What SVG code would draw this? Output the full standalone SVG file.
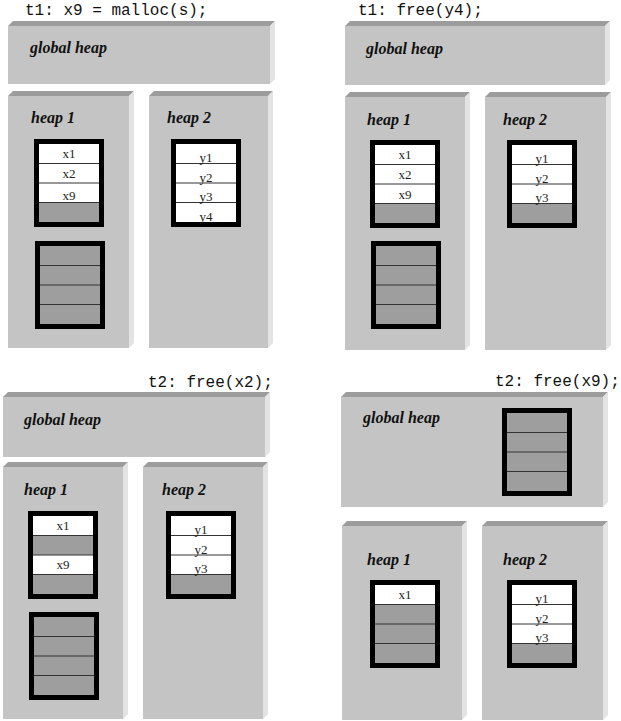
<svg xmlns="http://www.w3.org/2000/svg" width="621" height="721" viewBox="0 0 621 721">
<style>
.bg{fill:#ffffff}
.front{fill:#c4c4c4}
.top{fill:#9c9c9c}
.side{fill:#e3e3e3}
.title{font-family:"Liberation Mono","Courier New",monospace;font-size:16px;fill:#111}
.hl{font-family:"Liberation Serif","Times New Roman",serif;font-size:16px;font-weight:bold;font-style:italic;fill:#111}
.lbl{font-family:"Liberation Serif","Times New Roman",serif;font-size:13px;fill:#222;text-anchor:middle}
.frame{fill:#000}
.w{fill:#ffffff}
.g{fill:#9e9e9e}
.sep{stroke:#333;stroke-width:1}
</style>
<rect class="bg" x="0" y="0" width="621" height="721"/>
<defs>
<g id="blk-gray">
<rect class="frame" x="0" y="0" width="70" height="88"/>
<rect class="g" x="5" y="5" width="60" height="78"/>
<line class="sep" x1="5" y1="24.5" x2="65" y2="24.5"/>
<line class="sep" x1="5" y1="44" x2="65" y2="44"/>
<line class="sep" x1="5" y1="63.5" x2="65" y2="63.5"/>
</g>
</defs>

<!-- Panel 1 -->
<g id="panel1">
<text class="title" x="25" y="15" xml:space="preserve">t1: x9 = malloc(s);</text>
<g id="p1-global">
<polygon class="top" points="8,26 13,21 275,21 270,26"/>
<polygon class="side" points="270,26 275,21 275,79 270,84"/>
<rect class="front" x="8" y="26" width="262" height="58"/>
<text class="hl" x="30" y="53">global heap</text>
</g>
<g id="p1-heap1">
<polygon class="top" points="8,96 13,91 134,91 129,96"/>
<polygon class="side" points="129,96 134,91 134,343 129,348"/>
<rect class="front" x="8" y="96" width="121" height="252"/>
<text class="hl" x="31" y="123">heap 1</text>
<g transform="translate(34,139)">
<rect class="frame" x="0" y="0" width="70" height="88"/>
<rect class="w" x="5" y="5" width="60" height="58.5"/>
<rect class="g" x="5" y="63.5" width="60" height="19.5"/>
<line class="sep" x1="5" y1="24.5" x2="65" y2="24.5"/>
<line class="sep" x1="5" y1="44" x2="65" y2="44"/>
<line class="sep" x1="5" y1="63.5" x2="65" y2="63.5"/>
<text class="lbl" x="35" y="19">x1</text>
<text class="lbl" x="35" y="39">x2</text>
<text class="lbl" x="35" y="61">x9</text>
</g>
<use href="#blk-gray" x="35" y="241"/>
</g>
<g id="p1-heap2">
<polygon class="top" points="149,96 154,91 273,91 268,96"/>
<polygon class="side" points="268,96 273,91 273,343 268,348"/>
<rect class="front" x="149" y="96" width="119" height="252"/>
<text class="hl" x="167" y="123">heap 2</text>
<g transform="translate(171,139)">
<rect class="frame" x="0" y="0" width="70" height="88"/>
<rect class="w" x="5" y="5" width="60" height="78"/>
<line class="sep" x1="5" y1="24.5" x2="65" y2="24.5"/>
<line class="sep" x1="5" y1="44" x2="65" y2="44"/>
<line class="sep" x1="5" y1="63.5" x2="65" y2="63.5"/>
<text class="lbl" x="35" y="23">y1</text>
<text class="lbl" x="35" y="42.5">y2</text>
<text class="lbl" x="35" y="62">y3</text>
<text class="lbl" x="35" y="81.5">y4</text>
</g>
</g>
</g>

<!-- Panel 2 -->
<g id="panel2">
<text class="title" x="358" y="15" xml:space="preserve">t1: free(y4);</text>
<g id="p2-global">
<polygon class="top" points="345,26 350,21 610,21 605,26"/>
<polygon class="side" points="605,26 610,21 610,80 605,85"/>
<rect class="front" x="345" y="26" width="260" height="59"/>
<text class="hl" x="366" y="54">global heap</text>
</g>
<g id="p2-heap1">
<polygon class="top" points="345,97 350,92 470,92 465,97"/>
<polygon class="side" points="465,97 470,92 470,345 465,350"/>
<rect class="front" x="345" y="97" width="120" height="253"/>
<text class="hl" x="367" y="125">heap 1</text>
<g transform="translate(370,140)">
<rect class="frame" x="0" y="0" width="70" height="88"/>
<rect class="w" x="5" y="5" width="60" height="58.5"/>
<rect class="g" x="5" y="63.5" width="60" height="19.5"/>
<line class="sep" x1="5" y1="24.5" x2="65" y2="24.5"/>
<line class="sep" x1="5" y1="44" x2="65" y2="44"/>
<line class="sep" x1="5" y1="63.5" x2="65" y2="63.5"/>
<text class="lbl" x="35" y="19">x1</text>
<text class="lbl" x="35" y="39">x2</text>
<text class="lbl" x="35" y="59">x9</text>
</g>
<use href="#blk-gray" x="371" y="241"/>
</g>
<g id="p2-heap2">
<polygon class="top" points="485,97 490,92 611,92 606,97"/>
<polygon class="side" points="606,97 611,92 611,345 606,350"/>
<rect class="front" x="485" y="97" width="121" height="253"/>
<text class="hl" x="503" y="125">heap 2</text>
<g transform="translate(507,140)">
<rect class="frame" x="0" y="0" width="70" height="88"/>
<rect class="w" x="5" y="5" width="60" height="58.5"/>
<rect class="g" x="5" y="63.5" width="60" height="19.5"/>
<line class="sep" x1="5" y1="24.5" x2="65" y2="24.5"/>
<line class="sep" x1="5" y1="44" x2="65" y2="44"/>
<line class="sep" x1="5" y1="63.5" x2="65" y2="63.5"/>
<text class="lbl" x="35" y="23">y1</text>
<text class="lbl" x="35" y="42.5">y2</text>
<text class="lbl" x="35" y="62">y3</text>
</g>
</g>
</g>

<!-- Panel 3 -->
<g id="panel3">
<text class="title" x="148" y="387" xml:space="preserve">t2: free(x2);</text>
<g id="p3-global">
<polygon class="top" points="3,397 8,392 270,392 265,397"/>
<polygon class="side" points="265,397 270,392 270,452 265,457"/>
<rect class="front" x="3" y="397" width="262" height="60"/>
<text class="hl" x="24" y="425">global heap</text>
</g>
<g id="p3-heap1">
<polygon class="top" points="3,467 8,462 128,462 123,467"/>
<polygon class="side" points="123,467 128,462 128,714 123,719"/>
<rect class="front" x="3" y="467" width="120" height="252"/>
<text class="hl" x="24" y="495">heap 1</text>
<g transform="translate(28,511)">
<rect class="frame" x="0" y="0" width="70" height="88"/>
<rect class="w" x="5" y="5" width="60" height="19.5"/>
<rect class="g" x="5" y="24.5" width="60" height="19.5"/>
<rect class="w" x="5" y="44" width="60" height="19.5"/>
<rect class="g" x="5" y="63.5" width="60" height="19.5"/>
<line class="sep" x1="5" y1="24.5" x2="65" y2="24.5"/>
<line class="sep" x1="5" y1="44" x2="65" y2="44"/>
<line class="sep" x1="5" y1="63.5" x2="65" y2="63.5"/>
<text class="lbl" x="35" y="19">x1</text>
<text class="lbl" x="35" y="58">x9</text>
</g>
<use href="#blk-gray" x="29" y="612"/>
</g>
<g id="p3-heap2">
<polygon class="top" points="143,467 148,462 268,462 263,467"/>
<polygon class="side" points="263,467 268,462 268,714 263,719"/>
<rect class="front" x="143" y="467" width="120" height="252"/>
<text class="hl" x="162" y="495">heap 2</text>
<g transform="translate(166,511)">
<rect class="frame" x="0" y="0" width="70" height="88"/>
<rect class="w" x="5" y="5" width="60" height="58.5"/>
<rect class="g" x="5" y="63.5" width="60" height="19.5"/>
<line class="sep" x1="5" y1="24.5" x2="65" y2="24.5"/>
<line class="sep" x1="5" y1="44" x2="65" y2="44"/>
<line class="sep" x1="5" y1="63.5" x2="65" y2="63.5"/>
<text class="lbl" x="35" y="23">y1</text>
<text class="lbl" x="35" y="42.5">y2</text>
<text class="lbl" x="35" y="62">y3</text>
</g>
</g>
</g>

<!-- Panel 4 -->
<g id="panel4">
<text class="title" x="495" y="386" xml:space="preserve">t2: free(x9);</text>
<g id="p4-global">
<polygon class="top" points="341,397 346,392 608,392 603,397"/>
<polygon class="side" points="603,397 608,392 608,502 603,507"/>
<rect class="front" x="341" y="397" width="262" height="110"/>
<text class="hl" x="363" y="423">global heap</text>
<use href="#blk-gray" x="502" y="408"/>
</g>
<g id="p4-heap1">
<polygon class="top" points="342,526 347,521 467,521 462,526"/>
<polygon class="side" points="462,526 467,521 467,715 462,720"/>
<rect class="front" x="342" y="526" width="120" height="194"/>
<text class="hl" x="367" y="565">heap 1</text>
<g transform="translate(370,580)">
<rect class="frame" x="0" y="0" width="70" height="88"/>
<rect class="g" x="5" y="5" width="60" height="78"/>
<rect class="w" x="5" y="5" width="60" height="19.5"/>
<line class="sep" x1="5" y1="24.5" x2="65" y2="24.5"/>
<line class="sep" x1="5" y1="44" x2="65" y2="44"/>
<line class="sep" x1="5" y1="63.5" x2="65" y2="63.5"/>
<text class="lbl" x="35" y="19">x1</text>
</g>
</g>
<g id="p4-heap2">
<polygon class="top" points="482,526 487,521 608,521 603,526"/>
<polygon class="side" points="603,526 608,521 608,715 603,720"/>
<rect class="front" x="482" y="526" width="121" height="194"/>
<text class="hl" x="503" y="565">heap 2</text>
<g transform="translate(507,580)">
<rect class="frame" x="0" y="0" width="70" height="88"/>
<rect class="w" x="5" y="5" width="60" height="58.5"/>
<rect class="g" x="5" y="63.5" width="60" height="19.5"/>
<line class="sep" x1="5" y1="24.5" x2="65" y2="24.5"/>
<line class="sep" x1="5" y1="44" x2="65" y2="44"/>
<line class="sep" x1="5" y1="63.5" x2="65" y2="63.5"/>
<text class="lbl" x="35" y="23">y1</text>
<text class="lbl" x="35" y="42.5">y2</text>
<text class="lbl" x="35" y="62">y3</text>
</g>
</g>
</g>
</svg>
